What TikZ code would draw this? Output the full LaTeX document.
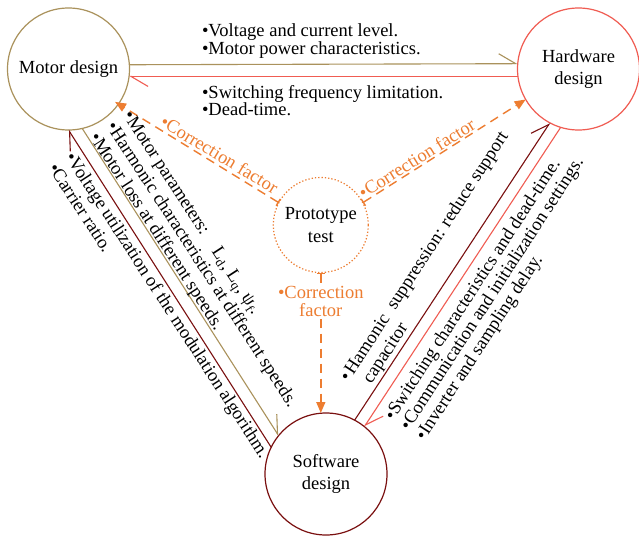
\documentclass[tikz,border=0pt]{standalone}
\usepackage{fontspec}
\setmainfont{Liberation Serif}
\usetikzlibrary{arrows.meta}
\definecolor{gold}{RGB}{170,146,92}
\definecolor{hred}{RGB}{240,92,82}
\definecolor{dred}{RGB}{122,16,16}
\definecolor{orng}{RGB}{237,125,49}
\begin{document}
\begin{tikzpicture}[x=1pt,y=-1pt,
  every node/.style={inner sep=0pt,outer sep=0pt},
  circ/.style={circle,draw,line width=1.2pt,minimum size=122pt,align=center,font=\fontsize{18.5}{22}\selectfont},
  harp/.style={line width=1.1pt,-{Straight Barb[harpoon,length=17pt,width=20pt]}},
  corr/.style={draw=orng,line width=1.4pt,dash pattern=on 9pt off 6pt,{Bar[width=8pt]}-{Triangle[length=11pt,width=9pt]}},
  lst/.style={anchor=base west,align=left,font=\fontsize{18.5}{#1}\selectfont},
]
\useasboundingbox (0,0) rectangle (639,535);
\fill[white] (0,0) rectangle (639,535);

\node[circ,draw=gold] (motor) at (68.5,69) {Motor design};
\node[circ,draw=hred] (hard) at (578.5,69) {Hardware\\design};
\node[circ,draw=dred] (soft) at (326,474) {Software\\design};
\node[circle,draw=orng,line width=1.2pt,dash pattern=on 1.3pt off 2pt,minimum size=95pt,align=center,font=\fontsize{18.5}{23}\selectfont] (proto) at (320.8,225) {Prototype\\test};

\draw[harp,gold] (motor.4.7) -- (hard.175.3);
\draw[harp,hred] (hard.187.5) -- (motor.-7.5);
\draw[harp,dred] (soft.154) -- (motor.-90);
\draw[harp,gold] (motor.-77.5) -- (soft.141);
\draw[harp,dred] (soft.62) -- (hard.-118);
\draw[harp,hred] (hard.-107) -- (soft.51);

\draw[corr,shorten >=-4pt] (proto.152) -- (motor.-35);
\draw[corr] (proto.28) -- (hard.210);
\draw[corr] (proto.south) -- (proto.south |- soft.north)
  node[pos=0.206,fill=white,inner sep=2.5pt,text=orng,align=center,font=\fontsize{18.5}{18}\selectfont] (clb) {•Correction\\factor};

\node[lst=20,rotate=-31,text=orng] (lc) at (159,125.6) {•Correction factor};
\node[lst=20,rotate=32,text=orng] (rc) at (363.6,199) {•Correction factor};

\node[lst=18.3] (t1) at (202,54.8) {•Voltage and current level.\\•Motor power characteristics.};
\node[lst=17.5] (t2) at (202,115.5) {•Switching frequency limitation.\\•Dead-time.};

\node[lst=20,rotate=-57] (l1) at (89.4,137.6) {•Motor parameters:\quad L\textsubscript{d}, L\textsubscript{q}, ψ\textsubscript{f}.\\•Harmonic characteristics at different speeds.\\•Motor loss at different speeds.};
\node[lst=20,rotate=-57] (l2) at (47.9,168.3) {•Voltage utilization of the modulation algorithm.\\•Carrier ratio.};

\node[lst=20,rotate=57] (r1) at (365.3,393.7) {•\hspace{2.5pt}Hamonic\hspace{9pt}suppression: reduce support\\\hspace{11pt}capacitor};
\node[lst=18.5,rotate=57] (r2) at (424.6,441.3) {•Switching characteristics and dead-time.\\•Communication and initialization settings.\\•Inverter and sampling delay.};
\end{tikzpicture}
\end{document}
